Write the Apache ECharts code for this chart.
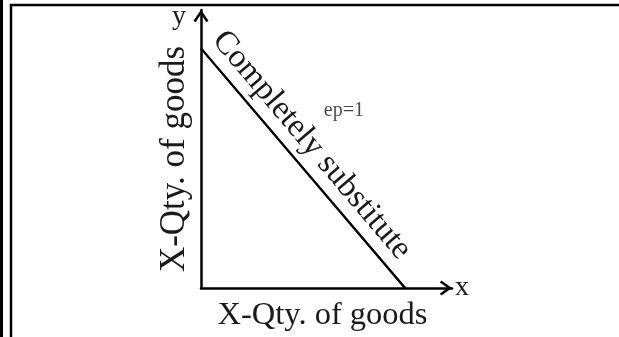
<!DOCTYPE html>
<html>
<head>
<meta charset="utf-8">
<script src="https://cdn.jsdelivr.net/npm/echarts@6/dist/echarts.min.js"></script>
<style>
	html, body { margin: 0; padding: 0; background: #fff; }
	#chart { width: 619px; height: 337px; }
</style>
</head>
<body>
<div id="chart"></div>
<script>
// axis texts
var axisNameX = "X-Qty. of goods";
var axisNameY = "X-Qty. of goods";
var axisEndX = "x";
var axisEndY = "y";

// the budget line, from the y intercept to the x intercept
var curveX = [0, 10];
var curveY = [10, 0];
var curveLabel = "Completely substitute";

// small note inside the triangle
var noteText = ["ep=1"];
var noteX = [7.0];
var noteY = [7.4];

var font = "Liberation Serif, Times New Roman, serif";
var ink = "#1a1a1a";
// open chevron pointing up, echarts rotates it along the axis
var chevron = "path://M50 0 L100 72 L86 82 L50 30 L14 82 L0 72 Z";

var chart = echarts.init(document.getElementById("chart"));

var hiddenParts = {
	axisTick: { show: false },
	axisLabel: { show: false },
	splitLine: { show: false }
};

var option = {
	animation: false,
	grid: { left: 201, right: 167, top: 10, bottom: 48 },
	xAxis: [
		Object.assign({
			type: "value",
			min: 0,
			max: 12.3,
			name: axisEndX,
			nameLocation: "end",
			nameGap: 3,
			nameTextStyle: { fontFamily: font, fontSize: 28, color: ink, verticalAlign: "middle" },
			axisLine: {
				show: true,
				symbol: ["none", chevron],
				symbolSize: [15, 13],
				symbolOffset: [0, -6],
				lineStyle: { color: "#000", width: 2.5 }
			}
		}, hiddenParts),
		Object.assign({
			type: "value",
			min: 0,
			max: 12.3,
			position: "bottom",
			name: axisNameX,
			nameLocation: "middle",
			nameGap: 11,
			nameTextStyle: { fontFamily: font, fontSize: 32.5, color: ink, padding: [0, 8, 0, 0] },
			axisLine: { show: false, onZero: false }
		}, hiddenParts)
	],
	yAxis: [
		Object.assign({
			type: "value",
			min: 0,
			max: 11.6,
			name: axisEndY,
			nameLocation: "end",
			nameGap: -7,
			nameTextStyle: { fontFamily: font, fontSize: 28, color: ink, align: "right", verticalAlign: "middle", padding: [0, 15, 0, 0] },
			axisLine: {
				show: true,
				symbol: ["none", chevron],
				symbolSize: [15, 13],
				symbolOffset: [0, -6],
				lineStyle: { color: "#000", width: 2.5 }
			}
		}, hiddenParts),
		Object.assign({
			type: "value",
			min: 0,
			max: 11.6,
			position: "left",
			name: axisNameY,
			nameLocation: "middle",
			nameGap: 9,
			nameTextStyle: { fontFamily: font, fontSize: 35, color: ink, padding: [0, 20, 0, 0] },
			axisLine: { show: false, onZero: false }
		}, hiddenParts)
	],
	graphic: [
		{ type: "line", shape: { x1: 1.5, y1: 0, x2: 1.5, y2: 337 }, style: { stroke: "#000", lineWidth: 3 } },
		{ type: "rect", shape: { x: 11, y: 5, width: 700, height: 400 }, style: { fill: null, stroke: "#000", lineWidth: 2.5 } }
	],
	series: [
		{
			type: "line",
			data: curveX.map(function(x, i) { return [x, curveY[i]]; }),
			symbol: "none",
			lineStyle: { color: "#000", width: 2 },
			silent: true,
			markLine: {
				silent: true,
				symbol: ["none", "none"],
				lineStyle: { color: "#000", width: 2, type: "solid" },
				label: {
					show: true,
					position: "insideStartTop",
					distance: [1, 5],
					formatter: curveLabel,
					fontFamily: font,
					fontSize: 33,
					color: ink,
					opacity: 1
				},
				data: [[
					{ coord: [curveX[0], curveY[0]] },
					{ coord: [curveX[1], curveY[1]] }
				]]
			}
		},
		{
			type: "scatter",
			data: noteX.map(function(x, i) { return { value: [x, noteY[i]], name: noteText[i] }; }),
			symbolSize: 1,
			itemStyle: { color: "transparent" },
			silent: true,
			label: {
				show: true,
				position: "inside",
				formatter: "{b}",
				fontFamily: font,
				fontSize: 20,
				color: ink
			}
		}
	]
};

chart.setOption(option);
</script>
</body>
</html>
